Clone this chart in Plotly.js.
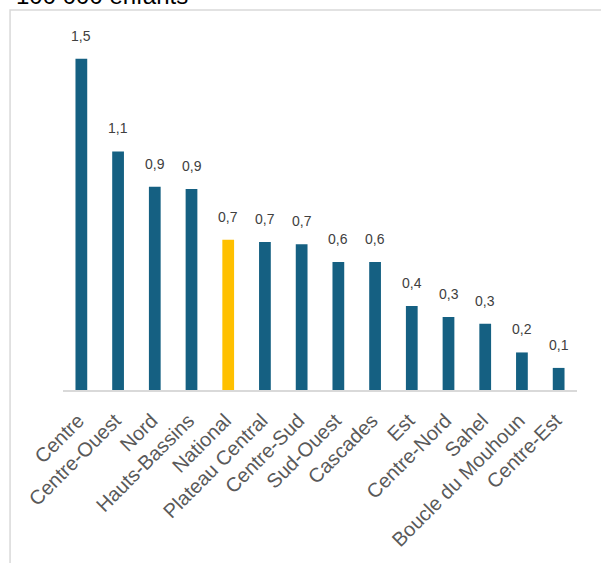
<!DOCTYPE html>
<html>
<head>
<meta charset="utf-8">
<script src="https://cdn.plot.ly/plotly-3.0.1.min.js"></script>
<style>html,body{margin:0;padding:0;background:#fff;}#chart{width:601px;height:563px;}</style>
</head>
<body>
<div id="chart"></div>
<script>
var regions = ["Centre","Centre-Ouest","Nord","Hauts-Bassins","National","Plateau Central","Centre-Sud","Sud-Ouest","Cascades","Est","Centre-Nord","Sahel","Boucle du Mouhoun","Centre-Est"];
var values = [1.50, 1.08, 0.92, 0.91, 0.68, 0.67, 0.66, 0.58, 0.58, 0.38, 0.33, 0.30, 0.17, 0.10];
var highlight = "National";
var titleText = "100 000 enfants";

var colors = regions.map(function(r){ return r === highlight ? "#FFC000" : "#156082"; });

var trace = {
  type: "bar",
  x: regions,
  y: values,
  width: 0.32,
  marker: {color: colors},
  hoverinfo: "skip"
};

var annotations = regions.map(function(r, i){
  return {
    x: r, y: values[i], xref: "x", yref: "y",
    text: values[i].toFixed(1).replace(".", ","),
    showarrow: false, yanchor: "bottom", yshift: 13,
    font: {family: "Liberation Sans, Arial, sans-serif", size: 14, color: "#404040"}
  };
});
annotations.push({
  xref: "paper", yref: "paper", x: -0.095, y: 1, xanchor: "left", yanchor: "bottom", yshift: 19,
  text: titleText, showarrow: false,
  font: {family: "Liberation Sans, Arial, sans-serif", size: 24, color: "#000000"}
});

var layout = {
  width: 601, height: 563,
  margin: {l: 63, r: 24, t: 30, b: 173},
  paper_bgcolor: "#ffffff", plot_bgcolor: "#ffffff",
  showlegend: false,
  xaxis: {
    type: "category", tickangle: -45, showgrid: false, zeroline: false,
    showline: true, linecolor: "#d9d9d9", linewidth: 2, ticks: "",
    ticklabelstandoff: 9, ticklabelshift: -3,
    tickfont: {family: "Liberation Sans, Arial, sans-serif", size: 20, color: "#595959"}
  },
  yaxis: {range: [0, 1.63], visible: false, showgrid: false, zeroline: false},
  annotations: annotations,
  shapes: [{
    type: "rect", xref: "paper", yref: "paper",
    x0: -0.103, x1: 1.2, y0: -0.6, y1: 1.0556,
    line: {color: "#d9d9d9", width: 1.5}, fillcolor: "rgba(0,0,0,0)", layer: "below"
  }]
};

Plotly.newPlot("chart", [trace], layout, {displayModeBar: false, staticPlot: true});
</script>
</body>
</html>
